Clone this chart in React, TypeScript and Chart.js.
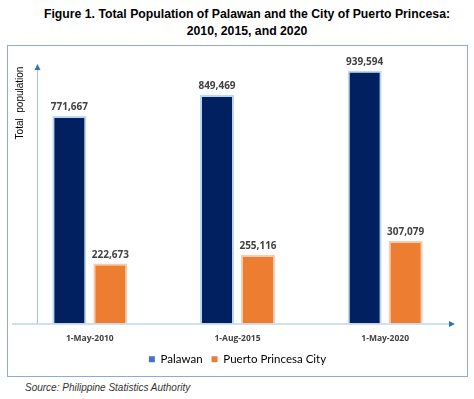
import React, { useEffect, useRef } from "react";
import { Chart, registerables } from "chart.js";
Chart.register(...registerables);

const titleLines = [
  "Figure 1. Total Population of Palawan and the City of Puerto Princesa:",
  "2010, 2015, and 2020",
];
const categories = ["1-May-2010", "1-Aug-2015", "1-May-2020"];
const seriesNames = ["Palawan", "Puerto Princesa City"];
const palawan = [771667, 849469, 939594];
const puertoPrincesa = [222673, 255116, 307079];
const yTitle = "Total  population";
const sourceText = "Source: Philippine Statistics Authority";
const yMax = 965000;

const barColors = ["#002060", "#ED7D31"];
const barRims = ["#BDD7EE", "#F8CBAD"];
const legendColors = ["#4472C4", "#ED7D31"];

const fmt = (v: number) => v.toLocaleString("en-US");

const decorPlugin = {
  id: "decor",
  afterDatasetsDraw(chart: any) {
    const { ctx, chartArea } = chart;
    const ax = chartArea.left + 21;
    const ay = chartArea.bottom;
    ctx.save();
    // y axis line + arrow
    ctx.strokeStyle = "#9DC3E6";
    ctx.lineWidth = 1;
    ctx.beginPath();
    ctx.moveTo(ax + 0.5, ay);
    ctx.lineTo(ax + 0.5, chartArea.top + 5);
    ctx.stroke();
    ctx.fillStyle = "#2E75B6";
    ctx.beginPath();
    ctx.moveTo(ax + 0.5, chartArea.top);
    ctx.lineTo(ax - 2.5, chartArea.top + 6);
    ctx.lineTo(ax + 3.5, chartArea.top + 6);
    ctx.closePath();
    ctx.fill();
    // x axis line + arrow
    const xEnd = chartArea.right - 4;
    ctx.strokeStyle = "#9DC3E6";
    ctx.beginPath();
    ctx.moveTo(chartArea.left - 4, ay + 0.5);
    ctx.lineTo(xEnd - 5, ay + 0.5);
    ctx.stroke();
    ctx.fillStyle = "#2E75B6";
    ctx.beginPath();
    ctx.moveTo(xEnd, ay + 0.5);
    ctx.lineTo(xEnd - 6, ay - 2.5);
    ctx.lineTo(xEnd - 6, ay + 3.5);
    ctx.closePath();
    ctx.fill();
    // value labels
    ctx.fillStyle = "#404040";
    ctx.font = "bold 10px 'Open Sans'";
    ctx.textAlign = "center";
    ctx.textBaseline = "alphabetic";
    chart.data.datasets.forEach((ds: any, i: number) => {
      const meta = chart.getDatasetMeta(i);
      meta.data.forEach((el: any, j: number) => {
        ctx.fillText(fmt(ds.data[j]), el.x, el.y - 6);
      });
    });
    ctx.restore();
    // y title
    ctx.save();
    ctx.fillStyle = "#000000";
    ctx.font = "normal 10px 'Liberation Sans'";
    ctx.textAlign = "center";
    ctx.textBaseline = "middle";
    ctx.translate(chartArea.left + 4, chartArea.top + 39);
    ctx.rotate(-Math.PI / 2);
    ctx.fillText(yTitle, 0, 0);
    ctx.restore();
  },
};

function ChartCanvas() {
  const ref = useRef<HTMLCanvasElement | null>(null);
  useEffect(() => {
    if (!ref.current) return;
    const chart = new Chart(ref.current, {
      type: "bar",
      data: {
        labels: categories,
        datasets: [
          {
            label: seriesNames[0],
            data: palawan,
            backgroundColor: barColors[0],
            borderColor: barRims[0],
            borderWidth: 2,
          },
          {
            label: seriesNames[1],
            data: puertoPrincesa,
            backgroundColor: barColors[1],
            borderColor: barRims[1],
            borderWidth: 2,
          },
        ],
      },
      options: {
        responsive: false,
        animation: false,
        maintainAspectRatio: false,
        datasets: {
          bar: { categoryPercentage: 0.555, barPercentage: 0.83 },
        },
        layout: { padding: { left: 8, right: 7, top: 18, bottom: 1 } },
        scales: {
          x: {
            grid: { display: false, drawTicks: false },
            border: { display: false },
            ticks: {
              color: "#404040",
              font: { family: "'Open Sans'", size: 8.5, weight: "bold" },
              padding: 10,
            },
            afterFit: (axis: any) => {
              axis.height = 21;
            },
          },
          y: { display: false, min: 0, max: yMax },
        },
        plugins: {
          legend: {
            position: "bottom",
            labels: {
              color: "#595959",
              font: { family: "Lato", size: 11.5 },
              boxWidth: 6,
              boxHeight: 6,
              padding: 9,
              generateLabels: () =>
                seriesNames.map((n, i) => ({
                  text: n,
                  fillStyle: legendColors[i],
                  strokeStyle: legendColors[i],
                  lineWidth: 0,
                  datasetIndex: i,
                  hidden: false,
                })),
            },
          },
          tooltip: { enabled: false },
        },
      },
      plugins: [decorPlugin],
    });
    return () => chart.destroy();
  }, []);
  return <canvas ref={ref} width={458} height={330} style={{ display: "block" }} />;
}

export default function App() {
  return (
    <div
      style={{
        position: "absolute",
        left: 0,
        top: 0,
        width: 474,
        height: 399,
        background: "#ffffff",
        fontFamily: "'Liberation Sans', Arial, sans-serif",
      }}
    >
      <div
        style={{
          position: "absolute",
          top: 6,
          left: 0,
          width: 494,
          textAlign: "center",
          fontWeight: "bold",
          fontSize: 12.25,
          lineHeight: "17px",
          color: "#000",
        }}
      >
        {titleLines.map((t, i) => (
          <div key={i}>{t}</div>
        ))}
      </div>
      <div
        style={{
          position: "absolute",
          left: 7,
          top: 45,
          width: 459,
          height: 330,
          border: "1px solid #8EAADB",
        }}
      >
        <ChartCanvas />
      </div>
      <div
        style={{
          position: "absolute",
          left: 25,
          top: 382,
          fontStyle: "italic",
          fontSize: 10,
          lineHeight: "12px",
          color: "#333",
        }}
      >
        {sourceText}
      </div>
    </div>
  );
}
